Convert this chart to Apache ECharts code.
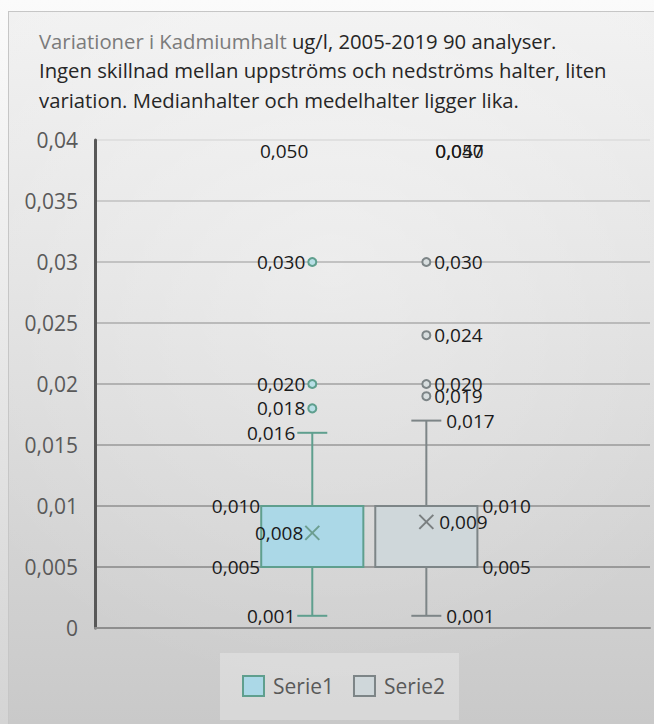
<!DOCTYPE html>
<html>
<head>
<meta charset="utf-8">
<script src="https://cdn.jsdelivr.net/npm/echarts@6.0.0/dist/echarts.min.js"></script>
<style>
  html, body { margin: 0; padding: 0; }
  body { width: 654px; height: 724px; position: relative; overflow: hidden;
         background: linear-gradient(to bottom, #fbfbfb, #d4d4d4); }
  #panel { position: absolute; left: 8px; top: 11px; width: 646px; height: 713px;
           box-sizing: border-box; border-top: 1px solid #c6c6c6; border-left: 1px solid #c6c6c6;
           background: radial-gradient(ellipse 70% 60% at 50% 35%, rgba(255,255,255,0.35), rgba(255,255,255,0) 100%),
                       linear-gradient(to bottom, #f1f1f1, #c9c9c9); }
  #chart { position: absolute; left: 0; top: 0; width: 654px; height: 724px; }
</style>
</head>
<body>
<div id="panel"></div>
<div id="chart"></div>
<script>
// Cadmium concentrations (µg/l), 2005–2019, upstream vs downstream
const categories = [''];
const seriesNames = ['Serie1', 'Serie2'];
// Box statistics per station: [min, Q1, median, Q3, max]
const serie1Box = [0.001, 0.005, 0.005, 0.010, 0.016];
const serie2Box = [0.001, 0.005, 0.005, 0.010, 0.017];
const serie1Mean = [0.0078];
const serie2Mean = [0.0087];
const serie1Outliers = [0.050, 0.030, 0.020, 0.018];
const serie2Outliers = [0.050, 0.047, 0.030, 0.024, 0.020, 0.019];
// Value axis ticks
const yTicks = [0, 0.005, 0.01, 0.015, 0.02, 0.025, 0.03, 0.035, 0.04];

const axisMin = yTicks[0];
const axisMax = yTicks[yTicks.length - 1];
const axisStep = yTicks[1] - yTicks[0];

const FONT = '"Open Sans", sans-serif';
const LABEL_FONT = '19px ' + FONT;
const LABEL_COLOR = '#1a1a1a';
const BOX_W = 0.184;   // box width as a share of the category band
const CAP = 15;        // half width of whisker caps, px

// Per-station look: box colours, marker colours, label side, label gaps and position in the band
const looks = [
  { fill: '#abd8e7', stroke: '#5f9f8e', mark: '#6c9e90', dot: '#b8dfe6', side: -1, center: -0.1085,
    gapDot: 7, gapCap: 17, gapBox: 1, gapMean: 9, gapTop: 4 },
  { fill: '#cfd7da', stroke: '#7d8587', mark: '#7a7f80', dot: '#d8dedf', side: 1, center: 0.097,
    gapDot: 8, gapCap: 20, gapBox: 5, gapMean: 13, gapTop: 9 }
];

const fmt = v => v.toFixed(3).replace('.', ',');

function label(x, y, value, side) {
  return {
    type: 'text', x: x, y: y, z2: 10,
    style: {
      text: fmt(value), font: LABEL_FONT, fill: LABEL_COLOR,
      align: side < 0 ? 'right' : 'left', verticalAlign: 'middle'
    }
  };
}

function boxRenderer(si) {
  const lk = looks[si];
  return function (params, api) {
    const cat = api.value(0);
    const band = api.size([1, 0])[0];
    const cx = api.coord([cat, axisMin])[0] + lk.center * band;
    const half = BOX_W * band / 2;
    const y = k => api.coord([cat, api.value(k)])[1];
    const yMin = y(1), yQ1 = y(2), yMed = y(3), yQ3 = y(4), yMax = y(5), yMean = y(6);
    const ls = { stroke: lk.stroke, lineWidth: 2, fill: null };
    const ms = { stroke: lk.mark, lineWidth: 2, fill: null };
    const s = lk.side;
    const xs = 7;
    return {
      type: 'group',
      children: [
        { type: 'line', shape: { x1: cx, y1: yQ3, x2: cx, y2: yMax }, style: ls },
        { type: 'line', shape: { x1: cx - CAP, y1: yMax, x2: cx + CAP, y2: yMax }, style: ls },
        { type: 'line', shape: { x1: cx, y1: yQ1, x2: cx, y2: yMin }, style: ls },
        { type: 'line', shape: { x1: cx - CAP, y1: yMin, x2: cx + CAP, y2: yMin }, style: ls },
        { type: 'rect', shape: { x: cx - half, y: yQ3, width: 2 * half, height: yQ1 - yQ3 },
          style: { fill: lk.fill, stroke: lk.stroke, lineWidth: 2 } },
        { type: 'line', shape: { x1: cx - half, y1: yMed, x2: cx + half, y2: yMed }, style: ls },
        { type: 'line', shape: { x1: cx - xs, y1: yMean - xs, x2: cx + xs, y2: yMean + xs }, style: ms },
        { type: 'line', shape: { x1: cx - xs, y1: yMean + xs, x2: cx + xs, y2: yMean - xs }, style: ms },
        label(cx + s * lk.gapCap, yMax, api.value(5), s),
        label(cx + s * lk.gapCap, yMin, api.value(1), s),
        label(cx + s * (half + lk.gapBox), yQ3, api.value(4), s),
        label(cx + s * (half + lk.gapBox), yQ1, api.value(2), s),
        label(cx + s * lk.gapMean, yMean, api.value(6), s)
      ]
    };
  };
}

function outlierRenderer(si) {
  const lk = looks[si];
  return function (params, api) {
    const cat = api.value(0);
    const v = api.value(1);
    const band = api.size([1, 0])[0];
    const cx = api.coord([cat, axisMin])[0] + lk.center * band;
    const s = lk.side;
    if (v > axisMax) {
      // value above the axis range: label pinned just under the top edge
      const yTop = api.coord([cat, axisMax])[1];
      return { type: 'group', children: [label(cx + s * lk.gapTop, yTop + 11, v, s)] };
    }
    const yy = api.coord([cat, v])[1];
    return {
      type: 'group',
      children: [
        { type: 'circle', shape: { cx: cx, cy: yy, r: 4 },
          style: { fill: lk.dot, stroke: lk.stroke, lineWidth: 2 } },
        label(cx + s * lk.gapDot, yy, v, s)
      ]
    };
  };
}

const boxes = [serie1Box, serie2Box];
const means = [serie1Mean, serie2Mean];
const outliers = [serie1Outliers, serie2Outliers];

const series = [];
seriesNames.forEach((name, si) => {
  series.push({
    name: name, type: 'custom', renderItem: boxRenderer(si), clip: false,
    itemStyle: { color: looks[si].fill, borderColor: looks[si].stroke },
    encode: { x: 0, y: [1, 2, 3, 4, 5, 6] },
    data: categories.map((c, ci) => [ci].concat(boxes[si], [means[si][ci]]))
  });
  series.push({
    name: name, type: 'custom', renderItem: outlierRenderer(si), clip: false,
    itemStyle: { color: looks[si].fill, borderColor: looks[si].stroke },
    encode: { x: 0, y: 1 },
    data: outliers[si].map(v => [0, v])
  });
});

const gridColors = ['#8f8f8f', '#9a9a9a', '#a2a2a2', '#aaaaaa', '#b2b2b2', '#bababa', '#c2c2c2', '#cbcbcb', '#e0e0e0'];

const chart = echarts.init(document.getElementById('chart'), null, { renderer: 'svg' });
chart.setOption({
  backgroundColor: 'transparent',
  animation: false,
  title: {
    left: 34, top: 21,
    text: '{a|Variationer i Kadmiumhalt} {b|ug/l, 2005-2019 90 analyser.}\n' +
          '{b|Ingen skillnad mellan uppströms och nedströms halter, liten}\n' +
          '{b|variation. Medianhalter och medelhalter ligger lika.}',
    textStyle: {
      fontFamily: FONT, fontSize: 20.3, fontWeight: 'normal', lineHeight: 29.5, color: '#262626',
      rich: {
        a: { fontFamily: FONT, fontSize: 20.3, lineHeight: 29.5, color: '#7b7b7b' },
        b: { fontFamily: FONT, fontSize: 20.3, lineHeight: 29.5, color: '#262626' }
      }
    }
  },
  legend: {
    left: 220, top: 653,
    padding: [22, 14, 23, 22],
    backgroundColor: 'rgba(255,255,255,0.28)',
    itemWidth: 21, itemHeight: 20, itemGap: 19,
    icon: 'rect',
    textStyle: { fontFamily: FONT, fontSize: 21, color: '#595959', padding: [0, 0, 0, 4] },
    data: seriesNames.map((n, i) => ({
      name: n, icon: 'rect',
      itemStyle: { color: looks[i].fill, borderColor: looks[i].stroke, borderWidth: 2 }
    }))
  },
  grid: { left: 95, right: 4, top: 140, bottom: 96, containLabel: false },
  xAxis: {
    type: 'category', data: categories,
    axisLine: { show: true, lineStyle: { color: '#8e8e8e', width: 2 } },
    axisTick: { show: false }, axisLabel: { show: false }, splitLine: { show: false }
  },
  yAxis: {
    type: 'value', min: axisMin, max: axisMax, interval: axisStep,
    axisLine: { show: true, lineStyle: { color: '#585858', width: 3 } },
    axisTick: { show: false },
    axisLabel: {
      margin: 17, fontFamily: FONT, fontSize: 21, color: '#595959',
      formatter: v => String(+v.toFixed(3)).replace('.', ',')
    },
    splitLine: { show: true, lineStyle: { color: gridColors, width: 2 } }
  },
  series: series
});
</script>
</body>
</html>
